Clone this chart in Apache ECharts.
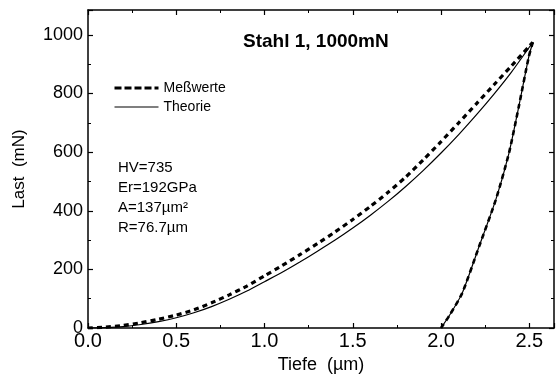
<!DOCTYPE html>
<html>
<head>
<meta charset="utf-8">
<script src="https://cdn.jsdelivr.net/npm/echarts@6/dist/echarts.min.js"></script>
<style>
html,body{margin:0;padding:0;background:#fff;}
#chart{width:557px;height:385px;}
</style>
</head>
<body>
<div id="chart"></div>
<script>
// Loading curve, measured (Meßwerte)
const loadDepth   = [0, 0.1, 0.2, 0.3, 0.4, 0.5, 0.6, 0.7, 0.8, 0.9, 1.0, 1.1, 1.2, 1.3, 1.4, 1.5, 1.6, 1.7, 1.8, 1.9, 2.0, 2.1, 2.2, 2.3, 2.4, 2.52];
const loadMeas    = [0, 3, 9, 18, 30, 44, 62, 86, 113, 143, 178, 213, 250, 288, 328, 370, 415, 463, 515, 574, 636, 700, 765, 830, 895, 975];
// Loading curve, theory
const loadTheory  = [0, 1.5, 5, 12, 22, 35, 52, 73, 98, 126, 158, 190, 225, 262, 300, 341, 385, 432, 483, 538, 597, 660, 727, 798, 874, 975];
// Unloading curve (measured and theory overlap)
const unloadDepth  = [2.0, 2.05, 2.12, 2.215, 2.31, 2.385, 2.44, 2.497, 2.52];
const unloadMeas   = [0, 45, 119, 277, 437, 597, 754, 925, 975];
const unloadTheory = [0, 45, 119, 277, 437, 597, 754, 925, 975];

const xTickLabels = ['0.0', '0.5', '1.0', '1.5', '2.0', '2.5'];
const yTickLabels = ['0', '200', '400', '600', '800', '1000'];

const titleText = 'Stahl 1, 1000mN';
const notes = ['HV=735', 'Er=192GPa', 'A=137µm²', 'R=76.7µm'];

function pairs(xs, ys) { return xs.map((x, i) => [x, ys[i]]); }

const FONT = 'Liberation Sans, Arial, sans-serif';
const X_INT = 0.5, Y_INT = 200;

function xFmt(v) {
  const k = Math.round(v / X_INT);
  return Math.abs(v / X_INT - k) < 1e-6 && k < xTickLabels.length ? xTickLabels[k] : '';
}
function yFmt(v) {
  const k = Math.round(v / Y_INT);
  return Math.abs(v / Y_INT - k) < 1e-6 && k < yTickLabels.length ? yTickLabels[k] : '';
}

const axisLine = { show: true, onZero: false, lineStyle: { color: '#000', width: 1.5 } };
const tick = { show: true, inside: true, length: 5, lineStyle: { color: '#000', width: 1.2 } };
const minor = { show: true, splitNumber: 2, length: 3, lineStyle: { color: '#000', width: 1 } };

const chart = echarts.init(document.getElementById('chart'), null, { renderer: 'canvas' });
chart.setOption({
  animation: false,
  backgroundColor: '#fff',
  color: ['#000', '#000', '#000', '#000'],
  title: {
    text: titleText, left: 238, top: 27,
    textStyle: { fontFamily: FONT, fontSize: 19, fontWeight: 'bold', color: '#000' }
  },
  grid: { left: 88, right: 2, top: 10, bottom: 57 },
  legend: {
    orient: 'vertical', left: 108, top: 76,
    itemWidth: 44, itemHeight: 14, itemGap: 5,
    itemStyle: { color: 'transparent', borderColor: 'transparent', borderWidth: 0, opacity: 0 },
    textStyle: { fontFamily: FONT, fontSize: 14, color: '#000' },
    data: [
      { name: 'Meßwerte', lineStyle: { type: [7, 3], width: 3, color: '#000' } },
      { name: 'Theorie', lineStyle: { type: 'solid', width: 1.2, color: '#000' } }
    ]
  },
  graphic: [{
    type: 'text', left: 118, top: 158,
    style: { text: notes.join('\n'), font: '15px ' + FONT, lineHeight: 20, fill: '#000' }
  }],
  xAxis: [{
    type: 'value', min: 0, max: 2.64, interval: X_INT, position: 'bottom',
    name: 'Tiefe  (µm)', nameLocation: 'middle', nameGap: 27,
    nameTextStyle: { fontFamily: FONT, fontSize: 18, color: '#000' },
    axisLine: axisLine, axisTick: tick, minorTick: minor, splitLine: { show: false },
    axisLabel: { fontFamily: FONT, fontSize: 20, color: '#000', margin: 3, formatter: xFmt }
  }, {
    type: 'value', min: 0, max: 2.64, interval: X_INT, position: 'top',
    axisLine: axisLine, axisTick: tick, minorTick: minor, splitLine: { show: false },
    axisLabel: { show: false }
  }],
  yAxis: [{
    type: 'value', min: 0, max: 1085, interval: Y_INT, position: 'left',
    name: 'Last  (mN)', nameLocation: 'middle', nameGap: 60,
    nameTextStyle: { fontFamily: FONT, fontSize: 17, color: '#000' },
    axisLine: axisLine, axisTick: tick, minorTick: minor, splitLine: { show: false },
    axisLabel: { fontFamily: FONT, fontSize: 18, color: '#000', margin: 5, formatter: yFmt }
  }, {
    type: 'value', min: 0, max: 1085, interval: Y_INT, position: 'right',
    axisLine: axisLine, axisTick: tick, minorTick: minor, splitLine: { show: false },
    axisLabel: { show: false }
  }],
  series: [
    { name: 'Theorie', type: 'line', data: pairs(loadDepth, loadTheory), showSymbol: false, symbol: 'none',
      smooth: 0.2, itemStyle: { color: '#000' }, lineStyle: { color: '#000', width: 1.2 } },
    { name: 'Theorie', type: 'line', data: pairs(unloadDepth, unloadTheory), showSymbol: false, symbol: 'none',
      smooth: 0.2, itemStyle: { color: '#000' }, lineStyle: { color: '#000', width: 1.2 } },
    { name: 'Meßwerte', type: 'line', data: pairs(loadDepth, loadMeas), showSymbol: false, symbol: 'none',
      smooth: 0.2, itemStyle: { color: '#000' }, lineStyle: { color: '#000', width: 3.2, type: [5, 4] } },
    { name: 'Meßwerte', type: 'line', data: pairs(unloadDepth, unloadMeas), showSymbol: false, symbol: 'none',
      smooth: 0.2, itemStyle: { color: '#000' }, lineStyle: { color: '#000', width: 2.6, type: [5, 4] } }
  ]
});
</script>
</body>
</html>
